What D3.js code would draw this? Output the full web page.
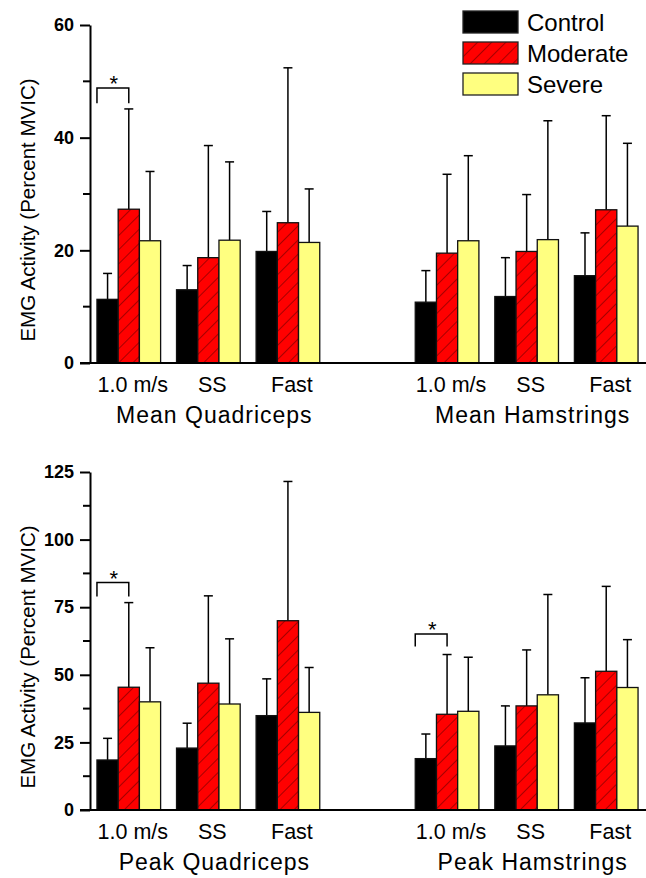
<!DOCTYPE html>
<html>
<head>
<meta charset="utf-8">
<script src="https://cdn.jsdelivr.net/npm/d3@7"></script>
<style>
  html, body { margin: 0; padding: 0; background: #fff; }
  svg { display: block; font-family: Arial, "Liberation Sans", sans-serif; }
</style>
</head>
<body>
<div id="chart"></div>
<script>
// EMG activity by walking speed — mean and peak, quadriceps and hamstrings

const groups = ['Control', 'Moderate', 'Severe']
const speeds = ['1.0 m/s', 'SS', 'Fast']
const slots = ['Q-1.0', 'Q-SS', 'Q-Fast', 'gap', 'H-1.0', 'H-SS', 'H-Fast']
const dataSlots = ['Q-1.0', 'Q-SS', 'Q-Fast', 'H-1.0', 'H-SS', 'H-Fast']

// mean activity (% MVIC), quad x3 then hams x3
const meanControl = [11.3, 13.0, 19.8, 10.8, 11.8, 15.5]
const meanControlSD = [4.6, 4.3, 7.1, 5.6, 6.9, 7.6]
const meanModerate = [27.3, 18.7, 24.9, 19.5, 19.8, 27.2]
const meanModerateSD = [17.8, 19.9, 27.5, 14.0, 10.1, 16.7]
const meanSevere = [21.7, 21.8, 21.4, 21.7, 21.9, 24.3]
const meanSevereSD = [12.3, 13.9, 9.5, 15.1, 21.1, 14.7]

// peak activity (% MVIC)
const peakControl = [18.5, 22.9, 34.9, 19.0, 23.7, 32.2]
const peakControlSD = [8.0, 9.2, 13.6, 9.1, 14.8, 16.7]
const peakModerate = [45.4, 46.9, 70.0, 35.4, 38.5, 51.3]
const peakModerateSD = [31.3, 32.3, 51.5, 22.1, 20.7, 31.4]
const peakSevere = [40.0, 39.2, 36.1, 36.5, 42.6, 45.3]
const peakSevereSD = [20.0, 24.1, 16.6, 20.0, 37.1, 17.7]

const meanTicks = [0, 20, 40, 60]
const meanMinor = [10, 30, 50]
const peakTicks = [0, 25, 50, 75, 100, 125]
const peakMinor = [12.5, 37.5, 62.5, 87.5, 112.5]

// significance brackets: slot, top value, leg end value
const meanSig = [{ slot: 'Q-1.0', top: 48.8, leg: 46.1 }]
const peakSig = [{ slot: 'Q-1.0', top: 84.1, leg: 79.0 }, { slot: 'H-1.0', top: 65.1, leg: 60.5 }]

const COLORS = { Control: '#000000', Moderate: '#ff0000', Severe: '#ffff80' }

const width = 646
const height = 878
const axisX = 90

const svg = d3.select('#chart').append('svg')
  .attr('width', width)
  .attr('height', height)

const defs = svg.append('defs')
const pat = defs.append('pattern')
  .attr('id', 'hatch')
  .attr('patternUnits', 'userSpaceOnUse')
  .attr('width', 10)
  .attr('height', 10)
  .attr('patternTransform', 'rotate(45)')
pat.append('rect').attr('width', 10).attr('height', 10).attr('fill', COLORS.Moderate)
pat.append('line')
  .attr('x1', 0).attr('y1', 0).attr('x2', 0).attr('y2', 10)
  .attr('stroke', '#6a0000').attr('stroke-width', 1.2)

const fillFor = (g) => (g === 'Moderate' ? 'url(#hatch)' : COLORS[g])

const x0 = d3.scaleBand().domain(slots).range([89, 646]).paddingInner(0.2).paddingOuter(0.1)
const x1 = d3.scaleBand().domain(groups).range([0, x0.bandwidth()])

const panels = [
  {
    top: 25, bottom: 363, max: 60, ticks: meanTicks, minor: meanMinor, sig: meanSig,
    titles: ['Mean Quadriceps', 'Mean Hamstrings'],
    series: { Control: [meanControl, meanControlSD], Moderate: [meanModerate, meanModerateSD], Severe: [meanSevere, meanSevereSD] },
  },
  {
    top: 472, bottom: 810, max: 125, ticks: peakTicks, minor: peakMinor, sig: peakSig,
    titles: ['Peak Quadriceps', 'Peak Hamstrings'],
    series: { Control: [peakControl, peakControlSD], Moderate: [peakModerate, peakModerateSD], Severe: [peakSevere, peakSevereSD] },
  },
]

panels.forEach((p) => {
  const y = d3.scaleLinear().domain([0, p.max]).range([p.bottom, p.top])
  const g = svg.append('g')

  const rows = []
  groups.forEach((grp) => {
    const [vals, sds] = p.series[grp]
    dataSlots.forEach((s, i) => rows.push({ slot: s, group: grp, value: vals[i], sd: sds[i] }))
  })
  const bx = (d) => x0(d.slot) + x1(d.group)
  const cx = (d) => bx(d) + x1.bandwidth() / 2

  // error bars (upper only)
  const err = g.append('g').attr('stroke', '#000').attr('stroke-width', 1.5)
  err.selectAll('line.v').data(rows).join('line')
    .attr('class', 'v')
    .attr('x1', cx).attr('x2', cx)
    .attr('y1', (d) => y(d.value)).attr('y2', (d) => y(d.value + d.sd))
  err.selectAll('line.c').data(rows).join('line')
    .attr('class', 'c')
    .attr('x1', (d) => cx(d) - 4.5).attr('x2', (d) => cx(d) + 4.5)
    .attr('y1', (d) => y(d.value + d.sd)).attr('y2', (d) => y(d.value + d.sd))

  g.append('g').selectAll('rect').data(rows).join('rect')
    .attr('x', bx)
    .attr('y', (d) => y(d.value))
    .attr('width', x1.bandwidth())
    .attr('height', (d) => y(0) - y(d.value))
    .attr('fill', (d) => fillFor(d.group))
    .attr('stroke', '#111')
    .attr('stroke-width', 1.3)

  // y axis
  const ya = g.append('g')
    .attr('transform', `translate(${axisX},0)`)
    .call(d3.axisLeft(y).tickValues(p.ticks).tickSize(10).tickSizeOuter(0).tickPadding(6))
  ya.select('.domain').attr('stroke-width', 2)
  ya.selectAll('.tick line').attr('stroke-width', 2)
  ya.selectAll('.tick text')
    .attr('font-size', 18).attr('font-weight', 'bold')
    .attr('font-family', 'Arial, "Liberation Sans", sans-serif')
    .attr('fill', '#000')
  ya.selectAll('line.minor').data(p.minor).join('line')
    .attr('class', 'minor')
    .attr('x1', -7).attr('x2', 0)
    .attr('y1', (d) => y(d)).attr('y2', (d) => y(d))
    .attr('stroke', '#000').attr('stroke-width', 2)

  // baseline
  g.append('line')
    .attr('x1', axisX - 10).attr('x2', width)
    .attr('y1', y(0)).attr('y2', y(0))
    .attr('stroke', '#000').attr('stroke-width', 2)

  g.append('text')
    .attr('transform', `translate(27,${(p.top + p.bottom) / 2 + 16}) rotate(-90)`)
    .attr('text-anchor', 'middle')
    .attr('dominant-baseline', 'central')
    .attr('font-size', 20.5)
    .text('EMG Activity (Percent MVIC)')

  // speed labels
  g.append('g').selectAll('text').data(dataSlots).join('text')
    .attr('x', (s) => x0(s) + x0.bandwidth() / 2 + 4)
    .attr('y', p.bottom + 29)
    .attr('text-anchor', 'middle')
    .attr('font-size', 21.5)
    .text((s, i) => speeds[i % 3])

  // muscle titles
  g.append('g').selectAll('text').data(p.titles).join('text')
    .attr('x', (t, i) => x0(dataSlots[i * 3 + 1]) + x0.bandwidth() / 2 + 6)
    .attr('y', p.bottom + 60)
    .attr('text-anchor', 'middle')
    .attr('font-size', 23)
    .attr('letter-spacing', 1)
    .text((t) => t)

  // significance brackets
  const sg = g.append('g')
  sg.selectAll('path').data(p.sig).join('path')
    .attr('d', (d) => {
      const l = x0(d.slot) + x1('Control')
      const r = x0(d.slot) + x1('Moderate') + x1.bandwidth() / 2
      return `M${l},${y(d.leg)}V${y(d.top)}H${r}V${y(d.leg)}`
    })
    .attr('fill', 'none').attr('stroke', '#000').attr('stroke-width', 1.5)
  sg.selectAll('text').data(p.sig).join('text')
    .attr('x', (d) => x0(d.slot) + x1('Control') + (x1('Moderate') + x1.bandwidth() / 2 - x1('Control')) / 2 + 1)
    .attr('y', (d) => y(d.top) + 3)
    .attr('text-anchor', 'middle')
    .attr('font-size', 22)
    .text('*')
})

// legend
const lg = svg.append('g').attr('transform', 'translate(463,11)')
const item = lg.selectAll('g').data(groups).join('g')
  .attr('transform', (d, i) => `translate(0,${i * 31})`)
item.append('rect')
  .attr('width', 55).attr('height', 22)
  .attr('fill', fillFor)
  .attr('stroke', '#222').attr('stroke-width', 1.3)
item.append('text')
  .attr('x', 64).attr('y', 11)
  .attr('dominant-baseline', 'central')
  .attr('font-size', 24)
  .text((d) => d)
</script>
</body>
</html>
